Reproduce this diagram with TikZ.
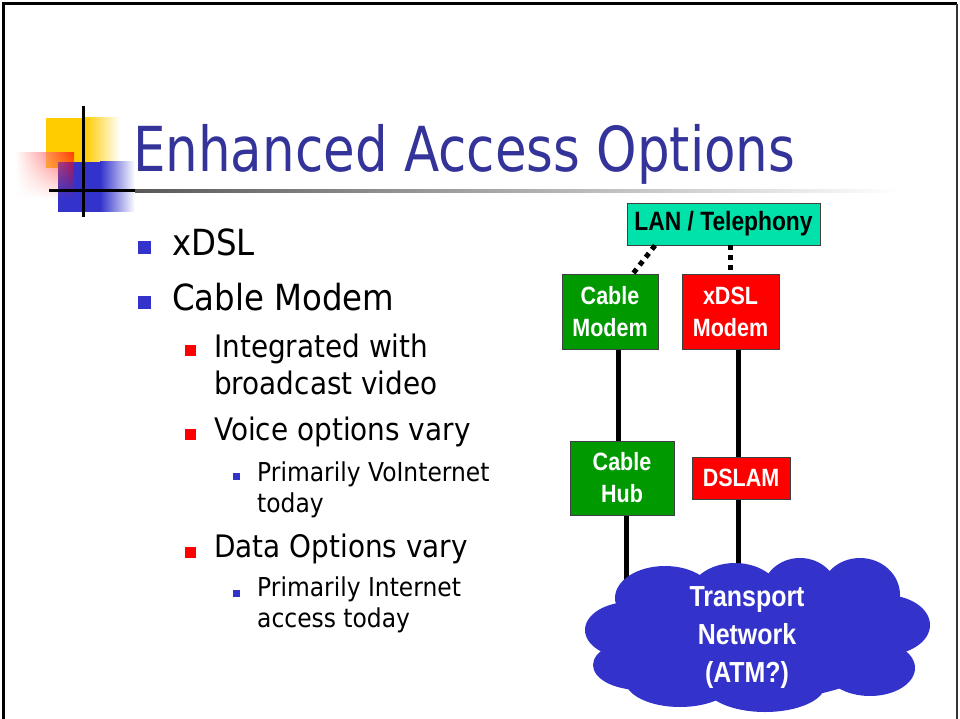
\documentclass[tikz,border=0pt]{standalone}
\usepackage{fontspec}
\setmainfont{DejaVu Sans}[FakeStretch=0.9]
\newfontfamily\titlefont{DejaVu Sans}[FakeStretch=0.83]
\newfontfamily\boxfont{Liberation Sans}[FakeStretch=0.86]
\usetikzlibrary{fadings,backgrounds}

\definecolor{titleblue}{RGB}{51,51,153}
\definecolor{dotblue}{RGB}{51,51,204}
\definecolor{boxgreen}{RGB}{0,153,0}
\definecolor{lanteal}{RGB}{0,226,170}
\definecolor{logoyellow}{RGB}{255,204,0}

\tikzset{
  box/.style={draw=black!75,line width=0.8pt,text=white,align=center,inner sep=0pt,
    font=\boxfont\bfseries\fontsize{25}{32}\selectfont},
  wire/.style={line width=5pt},
  dots/.style={line width=5pt,dash pattern=on 5pt off 5pt},
  sqone/.style={fill=dotblue,inner sep=0pt,minimum size=13pt},
  sqtwo/.style={fill=red,inner sep=0pt,minimum size=11pt},
  sqthree/.style={fill=dotblue,inner sep=0pt,minimum size=7pt},
  lvlone/.style={anchor=base west,align=left,font=\fontsize{36}{43}\selectfont},
  lvltwo/.style={anchor=base west,align=left,font=\fontsize{31}{37}\selectfont},
  lvlthree/.style={anchor=base west,align=left,font=\fontsize{26}{31}\selectfont}
}

\begin{document}
\begin{tikzpicture}[x=1pt,y=-1pt]
\useasboundingbox (0,0) rectangle (960,719);
% the slide frame
\draw[line width=3pt] (3.5,719) -- (3.5,4) -- (957,4);
\draw[black!80,line width=2pt] (957,4) -- (957,719);
% the logo squares
\fill[logoyellow] (46,118) rectangle (85,168);
\shade[left color=logoyellow,right color=white] (85,118) rectangle (120,168);
\fill[dotblue] (58,162) rectangle (100,212);
\shade[left color=dotblue,right color=white] (100,162) rectangle (135,212);
\shade[left color=white,right color=red,opacity=0.7,path fading=south] (15,153) rectangle (74,199);
\draw[line width=3pt] (83,106) -- (83,217);
\draw[line width=3pt] (49,191) -- (135,191);
% the title and its rule
\shade[left color=black!65,right color=white] (135,189.5) rectangle (900,192.5);
\node[anchor=base west,inner sep=0pt,text=titleblue,font=\titlefont\fontsize{62}{70}\selectfont] (title) at (133,172) {Enhanced Access Options};
% the bullet list (bullet y / last baseline / text)
\foreach \y/\b/\txt in {247.5/255/xDSL,302/310/Cable Modem} {
  \node[sqone] (sa\b) at (144,\y) {};
  \node[lvlone,inner sep=0pt] (ta\b) at (172,\b) {\txt};
}
\foreach \y/\b/\txt in {350.5/394/{Integrated with\\broadcast video},434.5/440/{Voice options vary},552.5/557/{Data Options vary}} {
  \node[sqtwo] (sb\b) at (190.5,\y) {};
  \node[lvltwo,inner sep=0pt] (tb\b) at (214,\b) {\txt};
}
\foreach \y/\b/\txt in {476.5/512/{Primarily VoInternet\\today},593.5/627/{Primarily Internet\\access today}} {
  \node[sqthree] (sc\b) at (236.5,\y) {};
  \node[lvlthree,inner sep=0pt] (tc\b) at (257,\b) {\txt};
}
% the access boxes
\node[box,fill=lanteal,text=black,minimum width=193pt,minimum height=42pt,font=\boxfont\bfseries\fontsize{26.5}{32}\selectfont] (lan) at (723.5,224) {LAN / Telephony};
\node[box,fill=boxgreen,minimum width=96pt,minimum height=75pt] (cm) at (610,311.5) {Cable\\Modem};
\node[box,fill=red,minimum width=97pt,minimum height=75pt] (xm) at (730.5,311.5) {xDSL\\Modem};
\node[box,fill=boxgreen,minimum width=104pt,minimum height=74pt] (hub) at (622,478) {Cable\\Hub};
\node[box,fill=red,minimum width=98pt,minimum height=42pt] (dslam) at (741,478) {DSLAM};
% the transport cloud, made of puffs
\foreach \cx/\cy/\rx/\ry in {757/640/140/60,665/598/50/32,735/600/48/37,800/593/38/35,
    860/595/40/37,885/625/45/30,870/668/45/28,765/685/60/27,680/680/55/27,630/630/45/28,640/665/47/25}
  \fill[dotblue] (\cx,\cy) ellipse [x radius=\rx,y radius=\ry];
\node[text=white,align=center,font=\boxfont\bfseries\fontsize{29}{38}\selectfont] (net) at (747,638) {Transport\\Network\\(ATM?)};
% the links
\draw[dots] ([xshift=-68.5pt]lan.south) -- ([xshift=23pt]cm.north);
\draw[dots] ([xshift=6.5pt]lan.south) -- ([xshift=-0.5pt]xm.north);
\begin{scope}[on background layer]
\draw[wire] ([xshift=8pt]cm.south) -- ([xshift=8pt]cm.south |- hub.north);
\draw[wire] ([xshift=4pt]hub.south) -- ([xshift=4pt]hub.south |- net.center);
\draw[wire] ([xshift=7.5pt]xm.south) -- ([xshift=7.5pt]xm.south |- dslam.north);
\draw[wire] ([xshift=-3pt]dslam.south) -- ([xshift=-3pt]dslam.south |- net.center);
\end{scope}
\end{tikzpicture}
\end{document}
